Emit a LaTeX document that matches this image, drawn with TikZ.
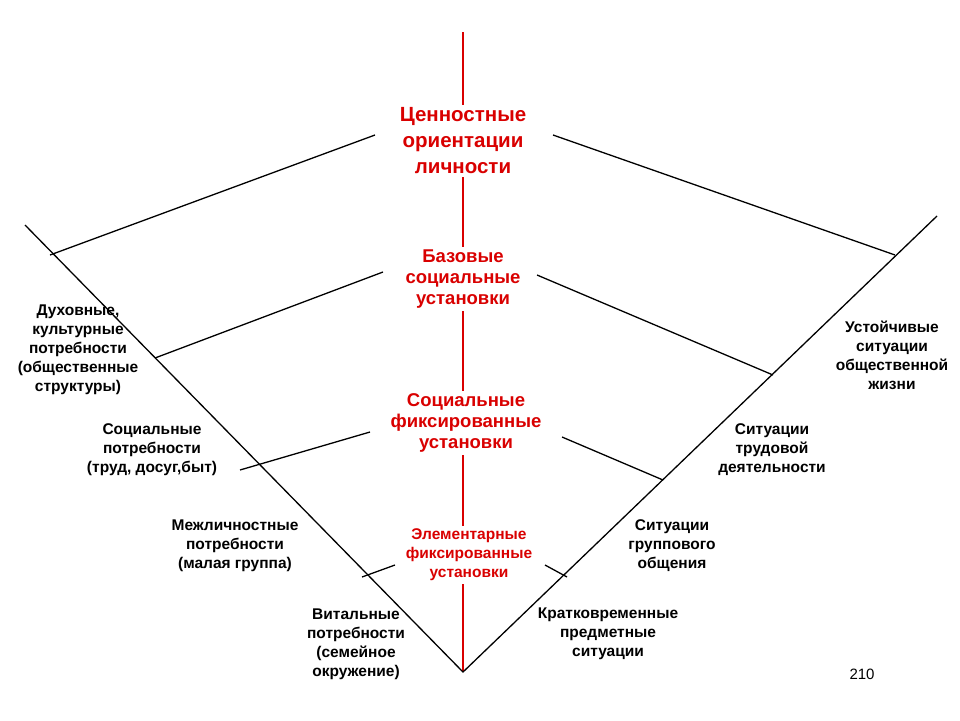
\documentclass[tikz,border=0pt]{standalone}
\usepackage{fontspec}
\setmainfont{Liberation Sans}
\begin{document}
\begin{tikzpicture}[x=1pt,y=-1pt,
 redlbl/.style={text=red!85!black,font=\bfseries\fontsize{18.5}{21}\selectfont,align=center,fill=white,inner sep=3pt},
 blk/.style={font=\bfseries\fontsize{15.5}{19}\selectfont,align=center,inner sep=1pt},
 ln/.style={line width=1.3pt}]
\useasboundingbox (0,0) rectangle (960,720);
\coordinate (top) at (463,32);
\coordinate (bot) at (463,672);
\coordinate (lt) at (25,225);
\coordinate (rt) at (937,216);
\draw[red!85!black,line width=2.2pt] (top) -- (bot);
\draw[ln] (lt) -- (bot) -- (rt);
\coordinate (a1) at (50,255); \coordinate (a2) at (375,135);
\coordinate (a3) at (553,135); \coordinate (a4) at (895,255);
\coordinate (b1) at (155,358); \coordinate (b2) at (383,272);
\coordinate (b3) at (537,275); \coordinate (b4) at (773,375);
\coordinate (c1) at (240,470); \coordinate (c2) at (370,432);
\coordinate (c3) at (562,437); \coordinate (c4) at (663,480);
\coordinate (d1) at (362,577); \coordinate (d2) at (395,565);
\coordinate (d3) at (545,565); \coordinate (d4) at (567,577);
\draw[ln] (a1)--(a2) (a3)--(a4) (b1)--(b2) (b3)--(b4) (c1)--(c2) (c3)--(c4) (d1)--(d2) (d3)--(d4);
\node[redlbl,font=\bfseries\fontsize{20.5}{26}\selectfont] (r1) at (463,141) {Ценностные\\ориентации\\личности};
\node[redlbl] (r2) at (463,279) {Базовые\\социальные\\установки};
\node[redlbl] (r3) at (466,423) {Социальные\\фиксированные\\установки};
\node[redlbl,font=\bfseries\fontsize{15.5}{19}\selectfont] (r4) at (469,555) {Элементарные\\фиксированные\\установки};
\node[blk] (l1) at (78,350) {Духовные,\\культурные\\потребности\\(общественные\\структуры)};
\node[blk] (l2) at (152,450) {Социальные\\потребности\\(труд, досуг,быт)};
\node[blk] (l3) at (235,546) {Межличностные\\потребности\\(малая группа)};
\node[blk] (l4) at (356,644) {Витальные\\потребности\\(семейное\\окружение)};
\node[blk] (q1) at (892,355) {Устойчивые\\ситуации\\общественной\\жизни};
\node[blk] (q2) at (772,450) {Ситуации\\трудовой\\деятельности};
\node[blk] (q3) at (672,546) {Ситуации\\группового\\общения};
\node[blk] (q4) at (608,634) {Кратковременные\\предметные\\ситуации};
\node[font=\fontsize{15}{17}\selectfont] (pg) at (862,674) {210};
\end{tikzpicture}
\end{document}
